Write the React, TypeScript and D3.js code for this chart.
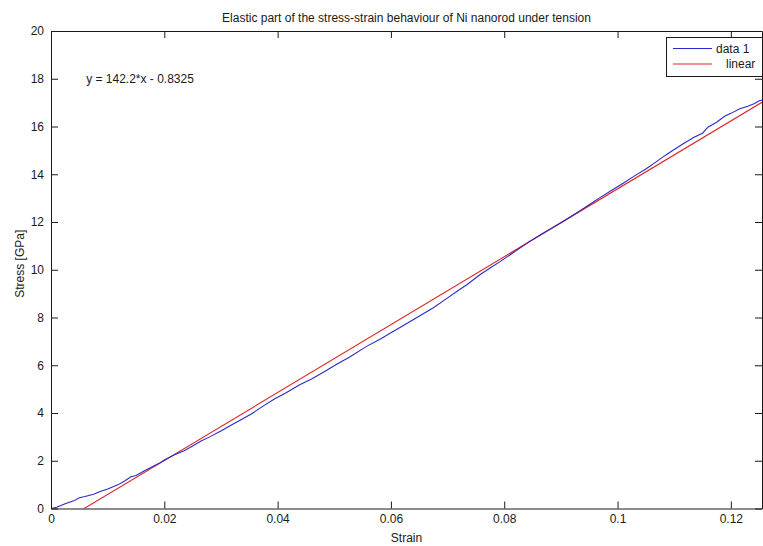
import React, { useEffect, useRef } from "react";
import * as d3 from "d3";

// measured strain / stress of the "data 1" curve
const strain = [
  0, 0.001, 0.0025, 0.004, 0.005, 0.006, 0.0075, 0.0088, 0.01, 0.0118, 0.013, 0.0141, 0.015, 0.0165,
  0.0176, 0.019, 0.02, 0.0218, 0.0235, 0.025, 0.0265, 0.028, 0.03, 0.032, 0.0337, 0.0355, 0.0375,
  0.0395, 0.0415, 0.0439, 0.046, 0.0483, 0.0505, 0.0528, 0.0557, 0.058, 0.06, 0.0616, 0.064, 0.066,
  0.0675, 0.07, 0.072, 0.0734, 0.0757, 0.0775, 0.0792, 0.0815, 0.0845, 0.087, 0.09, 0.0933, 0.095,
  0.0969, 0.0992, 0.101, 0.1028, 0.105, 0.107, 0.1086, 0.11, 0.1116, 0.1135, 0.115, 0.116, 0.1175,
  0.1189, 0.12, 0.1216, 0.123, 0.1242, 0.125, 0.1255,
];
const stress = [
  0, 0.05, 0.2, 0.32, 0.45, 0.5, 0.6, 0.72, 0.82, 0.99, 1.15, 1.33, 1.38, 1.58,
  1.72, 1.88, 2.03, 2.25, 2.42, 2.62, 2.83, 3.0, 3.25, 3.52, 3.74, 3.98, 4.3,
  4.6, 4.85, 5.18, 5.42, 5.74, 6.05, 6.36, 6.79, 7.08, 7.36, 7.58, 7.92, 8.2,
  8.41, 8.82, 9.15, 9.37, 9.79, 10.07, 10.33, 10.7, 11.19, 11.55, 11.97, 12.46, 12.72,
  13.02, 13.36, 13.62, 13.9, 14.22, 14.55, 14.82, 15.04, 15.28, 15.55, 15.72, 15.98, 16.18,
  16.43, 16.55, 16.74, 16.85, 16.96, 17.08, 17.1,
];

// linear fit end points (y = 142.2*x - 0.8325)
const fitX = [0, 0.1255];
const fitY = [-0.8325, 17.014];

const xTicks = [0, 0.02, 0.04, 0.06, 0.08, 0.1, 0.12];
const yTicks = [0, 2, 4, 6, 8, 10, 12, 14, 16, 18, 20];
const legendLabels = ["data 1", "linear"];

const FONT = "Liberation Sans, Arial, sans-serif";
const FS = 12;

export default function App() {
  const ref = useRef<SVGSVGElement>(null);

  useEffect(() => {
    const width = 763;
    const height = 546;
    const margin = { top: 31, left: 51, right: 1, bottom: 37.5 };
    const iwidth = width - margin.left - margin.right;
    const iheight = height - margin.top - margin.bottom;

    const svg = d3.select(ref.current);
    svg.selectAll("*").remove();

    svg.append("rect").attr("width", width).attr("height", height).attr("fill", "#fff");

    const g = svg.append("g").attr("transform", `translate(${margin.left}, ${margin.top})`);

    const x = d3.scaleLinear().domain([0, 0.1255]).range([0, iwidth]);
    const y = d3.scaleLinear().domain([0, 20]).range([iheight, 0]);

    g.append("clipPath").attr("id", "plot-clip")
      .append("rect").attr("width", iwidth).attr("height", iheight);

    const line = d3.line<[number, number]>()
      .x(d => x(d[0]))
      .y(d => y(d[1]));

    const fitPts = fitX.map((v, i) => [v, fitY[i]] as [number, number]);
    const dataPts = strain.map((v, i) => [v, stress[i]] as [number, number]);

    g.append("path")
      .attr("clip-path", "url(#plot-clip)")
      .attr("d", line(fitPts))
      .attr("fill", "none")
      .attr("stroke", "#e02424")
      .attr("stroke-width", 1.1);

    g.append("path")
      .attr("clip-path", "url(#plot-clip)")
      .attr("d", line(dataPts))
      .attr("fill", "none")
      .attr("stroke", "#2a2acc")
      .attr("stroke-width", 1.1);

    // axes box, ticks inward on all four sides
    const tick = 7;
    const bottom = g.append("g").attr("transform", `translate(0, ${iheight})`)
      .call(d3.axisBottom(x).tickValues(xTicks).tickSizeInner(-tick).tickSizeOuter(0)
        .tickPadding(6).tickFormat(d => String(+(+d).toFixed(2))));
    const top = g.append("g")
      .call(d3.axisTop(x).tickValues(xTicks).tickSizeInner(-tick).tickSizeOuter(0).tickFormat(() => ""));
    const left = g.append("g")
      .call(d3.axisLeft(y).tickValues(yTicks).tickSizeInner(-tick).tickSizeOuter(0)
        .tickPadding(7).tickFormat(d => String(d)));
    const right = g.append("g").attr("transform", `translate(${iwidth}, 0)`)
      .call(d3.axisRight(y).tickValues(yTicks).tickSizeInner(-tick).tickSizeOuter(0).tickFormat(() => ""));

    [bottom, top, left, right].forEach(a => {
      a.selectAll(".domain").attr("stroke", "#1a1a1a");
      a.selectAll(".tick line").attr("stroke", "#1a1a1a");
      a.selectAll("text").attr("font-family", FONT).attr("font-size", FS).attr("fill", "#1a1a1a");
    });

    // title and labels
    svg.append("text")
      .attr("x", margin.left + iwidth / 2).attr("y", 22)
      .attr("text-anchor", "middle")
      .attr("font-family", FONT).attr("font-size", FS).attr("fill", "#1a1a1a")
      .text("Elastic part of the stress-strain behaviour of Ni nanorod under tension");

    svg.append("text")
      .attr("x", margin.left + iwidth / 2).attr("y", 542)
      .attr("text-anchor", "middle")
      .attr("font-family", FONT).attr("font-size", FS).attr("fill", "#1a1a1a")
      .text("Strain");

    svg.append("text")
      .attr("transform", `translate(24, ${margin.top + iheight / 2 - 6}) rotate(-90)`)
      .attr("text-anchor", "middle")
      .attr("font-family", FONT).attr("font-size", FS).attr("fill", "#1a1a1a")
      .text("Stress [GPa]");

    g.append("text")
      .attr("x", x(0.0062)).attr("y", y(18) + 4)
      .attr("font-family", FONT).attr("font-size", FS).attr("fill", "#1a1a1a")
      .text("y = 142.2*x - 0.8325");

    // legend
    const legend = svg.append("g").attr("transform", "translate(666, 37)");
    legend.append("rect")
      .attr("x", 0.5).attr("y", 0.5).attr("width", 96).attr("height", 39)
      .attr("fill", "#fff").attr("stroke", "#1a1a1a");
    const colors = ["#2a2acc", "#e02424"];
    legendLabels.forEach((label, i) => {
      const ly = 11.5 + i * 15.5;
      legend.append("line")
        .attr("x1", 7).attr("x2", 46).attr("y1", ly).attr("y2", ly)
        .attr("stroke", colors[i]).attr("stroke-width", 1.1);
      legend.append("text")
        .attr("x", i === 0 ? 50 : 60).attr("y", ly + 4)
        .attr("font-family", FONT).attr("font-size", FS).attr("fill", "#1a1a1a")
        .text(label);
    });
  }, []);

  return (
    <svg ref={ref} width={763} height={546}
      style={{ position: "absolute", left: 0, top: 0, display: "block" }} />
  );
}
